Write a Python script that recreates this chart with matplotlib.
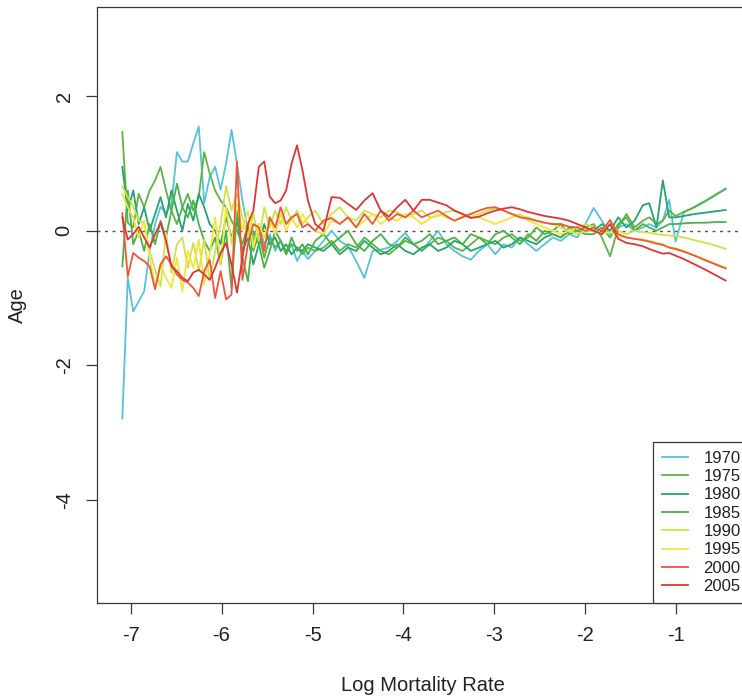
import matplotlib
matplotlib.use('Agg')
import matplotlib.pyplot as plt

plt.rcParams['font.family'] = ['Liberation Sans', 'DejaVu Sans']
plt.rcParams['axes.unicode_minus'] = False

years = ['1970', '1975', '1980', '1985', '1990', '1995', '2000', '2005']
colors = ['#55c2de', '#5db445', '#25a46c', '#47b446', '#d0e24a', '#f2e63a', '#ee5638', '#df3535']

log_mx = [
    -7.09, -7.03, -6.97, -6.91, -6.85, -6.79, -6.73, -6.67, -6.61, -6.55,
    -6.49, -6.43, -6.37, -6.31, -6.25, -6.19, -6.13, -6.07, -6.01, -5.95,
    -5.89, -5.83, -5.77, -5.71, -5.65, -5.59, -5.53, -5.47, -5.41, -5.35,
    -5.29, -5.23, -5.17, -5.11, -5.05,
    -4.97, -4.88, -4.79, -4.70, -4.61, -4.52, -4.43, -4.34, -4.25, -4.16,
    -4.07, -3.98, -3.89, -3.80, -3.71, -3.62, -3.53, -3.44, -3.35, -3.26,
    -3.17, -3.08, -2.99, -2.90, -2.81, -2.72, -2.63, -2.54, -2.45, -2.36,
    -2.27, -2.18, -2.09, -2.00,
    -1.91, -1.82, -1.73, -1.64, -1.55, -1.46, -1.37, -1.30, -1.22, -1.15,
    -1.08, -1.01, -0.92, -0.80, -0.68, -0.57, -0.46,
]

age_1970 = [
    -2.79, -0.7, -1.2, -1.05, -0.9, -0.3, 0.1, 0.36, 0.26, 0.4,
    1.17, 1.03, 1.03, 1.3, 1.55, 0.41, 0.8, 0.95, 0.61, 1.0,
    1.5, 1.0, 0.45, 0.0, -0.15, 0.1, -0.2, -0.05, -0.3, -0.15,
    -0.35, -0.2, -0.45, -0.3, -0.42,
    -0.3, -0.15, 0.0, -0.15, -0.23, -0.45, -0.7, -0.3, -0.28, -0.25,
    -0.15, -0.03, -0.2, -0.3, -0.15, 0.0, -0.2, -0.3, -0.38, -0.43,
    -0.3, -0.2, -0.35, -0.2, -0.25, -0.1, -0.2, -0.3, -0.2, -0.1,
    -0.15, -0.05, -0.1, 0.1,
    0.34, 0.15, -0.05, 0.05, 0.1, 0.0, 0.05, 0.1, 0.05, 0.15,
    0.46, -0.16, 0.27, 0.36, 0.45, 0.54, 0.63,
]
age_1975 = [
    1.47, 0.12, 0.05, 0.55, 0.35, 0.6, 0.75, 0.95, 0.6, 0.3,
    0.1, 0.35, 0.55, 0.3, 0.5, 1.17, 0.85, 0.6, 0.45, 0.35,
    0.15, 0.0, -0.2, 0.1, -0.3, -0.05, -0.4, -0.1, -0.25, -0.15,
    -0.3, -0.2, -0.25, -0.35, -0.25,
    -0.3, -0.25, -0.15, -0.3, -0.2, -0.25, -0.1, -0.2, -0.3, -0.35,
    -0.25, -0.15, -0.2, -0.3, -0.2, -0.1, -0.15, -0.25, -0.3, -0.2,
    -0.1, -0.15, -0.2, -0.1, -0.05, -0.15, -0.1, 0.05, -0.05, 0.0,
    0.1, -0.05, 0.0, 0.05,
    0.1, -0.1, -0.38, 0.05, 0.25, 0.05, 0.15, 0.2, 0.1, 0.15,
    0.3, 0.22, 0.28, 0.35, 0.44, 0.53, 0.62,
]
age_1980 = [
    0.95, 0.3, 0.6, 0.1, 0.35, 0.0, 0.25, 0.5, 0.2, 0.6,
    0.3, 0.0, 0.4, 0.15, 0.55, 0.35, 0.1, 0.0, -0.2, 0.2,
    -0.1, 0.15, -0.3, -0.1, -0.5, -0.2, 0.1, -0.2, -0.1, -0.3,
    -0.2, -0.35, -0.25, -0.3, -0.2,
    -0.25, -0.3, -0.2, -0.35, -0.25, -0.3, -0.15, -0.25, -0.35, -0.3,
    -0.2, -0.3, -0.35, -0.25, -0.2, -0.3, -0.25, -0.15, -0.2, -0.3,
    -0.25, -0.2, -0.15, -0.25, -0.2, -0.1, -0.15, -0.2, -0.1, -0.05,
    -0.1, 0.0, -0.05, 0.0,
    0.0, 0.1, 0.0, 0.2, 0.05, 0.15, 0.38, 0.41, 0.05, 0.75,
    0.2, 0.2, 0.22, 0.25, 0.27, 0.29, 0.31,
]
age_1985 = [
    -0.53, 0.6, -0.2, 0.0, -0.3, 0.1, -0.2, 0.15, -0.1, 0.3,
    0.7, 0.35, 0.2, 0.45, 0.1, -0.15, -0.3, -0.1, -0.5, 0.0,
    -0.85, 0.3, -0.4, -0.75, 0.0, -0.2, -0.55, -0.3, 0.0, -0.15,
    -0.35, -0.1, -0.3, -0.2, -0.35,
    -0.15, -0.05, -0.2, -0.1, 0.0, -0.2, -0.3, -0.15, -0.05, -0.2,
    -0.25, -0.1, -0.2, -0.15, -0.05, -0.2, -0.15, -0.1, -0.2, -0.05,
    -0.1, -0.2, -0.05, 0.0, -0.1, -0.2, -0.05, -0.15, 0.0, -0.05,
    -0.1, 0.05, 0.0, -0.05,
    -0.05, 0.05, -0.1, 0.1, 0.2, 0.0, 0.1, 0.05, 0.0, 0.05,
    0.1, 0.1, 0.11, 0.12, 0.12, 0.13, 0.13,
]
age_1990 = [
    0.66, 0.5, 0.36, 0.15, 0.12, -0.3, -0.58, -0.83, -0.03, -0.63,
    -0.2, -0.1, -0.55, -0.18, -0.6, -0.13, -0.73, -0.3, 0.1, 0.66,
    0.3, 0.56, 0.2, -0.1, 0.25, -0.15, 0.35, 0.05, 0.3, 0.1,
    0.35, 0.15, 0.3, 0.1, 0.2,
    0.3, 0.1, 0.25, 0.35, 0.2, 0.15, 0.3, 0.25, 0.2, 0.3,
    0.28, 0.2, 0.25, 0.3, 0.2, 0.22, 0.28, 0.3, 0.25, 0.2,
    0.25, 0.3, 0.33, 0.3, 0.25, 0.22, 0.2, 0.15, 0.12, 0.1,
    0.05, 0.0, 0.05, 0.1,
    0.05, 0.0, 0.1, 0.0, -0.05, 0.0, -0.02, -0.03, -0.05, -0.06,
    -0.07, -0.08, -0.1, -0.14, -0.18, -0.22, -0.27,
]
age_1995 = [
    0.55, 0.35, 0.2, -0.1, 0.15, -0.4, -0.83, -0.5, -0.7, -0.85,
    -0.4, -0.9, -0.3, -0.55, -0.13, -0.8, -0.35, 0.2, -0.5, 0.35,
    -0.2, 0.4, 0.0, 0.3, -0.25, 0.1, -0.1, 0.2, -0.05, 0.25,
    0.0, 0.2, 0.05, 0.25, 0.1,
    0.0, -0.05, 0.15, 0.1, 0.2, 0.05, 0.15, 0.25, 0.1, 0.2,
    0.15, 0.25, 0.2, 0.1, 0.18, 0.25, 0.2, 0.15, 0.22, 0.25,
    0.2, 0.15, 0.1, 0.15, 0.2, 0.25, 0.15, 0.1, 0.05, 0.0,
    -0.05, 0.0, -0.05, 0.0,
    0.0, -0.05, -0.02, -0.08, -0.1, -0.12, -0.13, -0.15, -0.18, -0.2,
    -0.25, -0.26, -0.3, -0.37, -0.43, -0.49, -0.55,
]
age_2000 = [
    0.26, -0.68, -0.33, -0.4, -0.45, -0.53, -0.87, -0.5, -0.38, -0.5,
    -0.65, -0.73, -0.77, -0.85, -0.97, -0.6, -0.43, -1.0, -0.6, -1.02,
    -0.95, 1.03, -0.73, -0.2, 0.1, 0.05, -0.3, 0.2, 0.05, 0.35,
    0.1, 0.2, 0.25, 0.05, 0.1,
    0.0, 0.15, 0.19, 0.1, 0.2, 0.05, 0.25, 0.1, 0.3, 0.15,
    0.25, 0.2, 0.3, 0.2, 0.25, 0.3, 0.22, 0.15, 0.2, 0.25,
    0.3, 0.34, 0.35, 0.3, 0.25, 0.2, 0.18, 0.15, 0.12, 0.1,
    0.1, 0.06, 0.05, 0.0,
    0.05, 0.0, 0.16, -0.05, -0.1, -0.12, -0.14, -0.16, -0.19, -0.21,
    -0.25, -0.27, -0.31, -0.37, -0.44, -0.5, -0.56,
]
age_2005 = [
    0.2, -0.13, -0.05, 0.06, -0.1, -0.25, -0.05, 0.12, -0.15, -0.53,
    -0.6, -0.7, -0.75, -0.62, -0.58, -0.65, -0.73, -0.55, -0.33, -0.18,
    -0.5, -0.92, -0.4, 0.1, 0.3, 0.95, 1.03, 0.51, 0.41, 0.45,
    0.6, 1.0, 1.27, 0.9, 0.45,
    0.1, 0.0, 0.5, 0.49, 0.4, 0.31, 0.45, 0.56, 0.3, 0.21,
    0.35, 0.46, 0.3, 0.46, 0.46, 0.42, 0.38, 0.3, 0.25, 0.19,
    0.21, 0.26, 0.3, 0.33, 0.35, 0.32, 0.28, 0.25, 0.22, 0.2,
    0.18, 0.15, 0.1, 0.05,
    0.0, -0.05, 0.1, -0.12, -0.18, -0.2, -0.23, -0.27, -0.31, -0.34,
    -0.33, -0.37, -0.42, -0.5, -0.58, -0.66, -0.74,
]

series = [age_1970, age_1975, age_1980, age_1985, age_1990, age_1995, age_2000, age_2005]

W, H = 742, 698
fig = plt.figure(figsize=(W / 100, H / 100), dpi=100)
left_px, right_px, top_px, bottom_px = 97.3, 749.0, 7.0, 602.5
ax = fig.add_axes([left_px / W, (H - bottom_px) / H,
                   (right_px - left_px) / W, (bottom_px - top_px) / H])

ink = '#383838'
ax.axhline(0, color='#555555', lw=1.0, ls=(0, (2.2, 3.2)), zorder=1)

for yr, col, ys in zip(years, colors, series):
    ax.plot(log_mx, ys, color=col, lw=1.3, label=yr, zorder=2)

ax.set_xlim(-7.365, -0.203)
ax.set_ylim(-5.528, 3.328)
ax.set_xticks([-7, -6, -5, -4, -3, -2, -1])
ax.set_yticks([-4, -2, 0, 2])
ax.tick_params(axis='both', length=8, width=0.9, color=ink, pad=9,
               labelsize=14.5, labelcolor='#222222')
for lab in ax.get_yticklabels():
    lab.set_rotation(90)
    lab.set_va('center')
for s in ax.spines.values():
    s.set_color(ink)
    s.set_linewidth(0.9)

ax.set_xlabel('Log Mortality Rate', fontsize=14.5, color='#222222', labelpad=22)
ax.set_ylabel('Age', fontsize=14.5, color='#222222', labelpad=20)

leg = ax.legend(loc='lower right', borderaxespad=0, fontsize=12, frameon=True,
                fancybox=False, framealpha=1, edgecolor=ink, handlelength=1.55,
                handletextpad=0.95, labelspacing=0.2, borderpad=0.5)
leg.get_frame().set_linewidth(0.9)
for t in leg.get_texts():
    t.set_color('#222222')

fig.savefig('out.png', dpi=100)
